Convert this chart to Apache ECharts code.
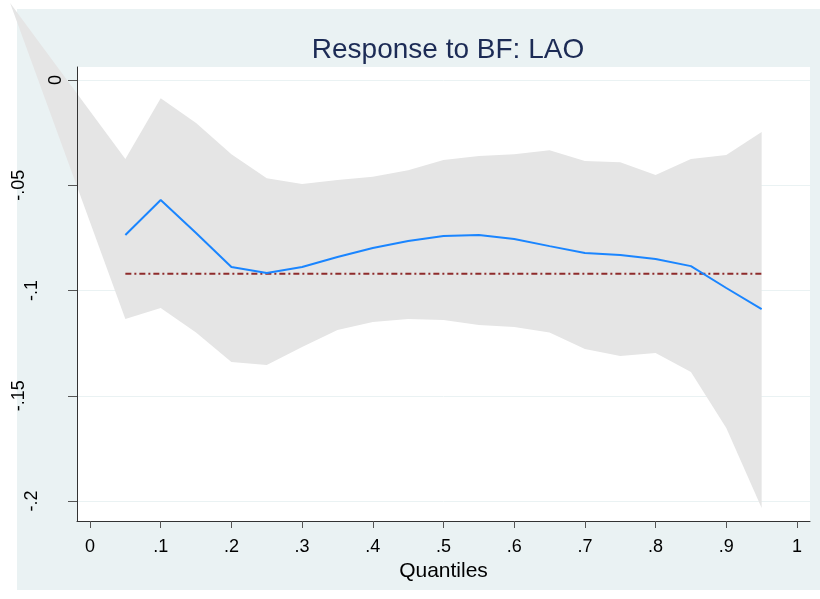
<!DOCTYPE html>
<html>
<head>
<meta charset="utf-8">
<script src="https://cdn.jsdelivr.net/npm/echarts@6/dist/echarts.min.js"></script>
<style>
  html, body { margin: 0; padding: 0; background: #fff; }
  #bg { position: absolute; left: 17px; top: 9px; width: 803px; height: 581px; background: #EAF2F3; }
  #chart { position: absolute; left: 0; top: 0; width: 820px; height: 599px; }
</style>
</head>
<body>
<div id="bg"></div>
<div id="chart"></div>
<script>
// quantiles and estimates
const quantiles = [0.05, 0.1, 0.15, 0.2, 0.25, 0.3, 0.35, 0.4, 0.45, 0.5,
                   0.55, 0.6, 0.65, 0.7, 0.75, 0.8, 0.85, 0.9, 0.95];
const response = [-0.0736, -0.0570, -0.0727, -0.0888, -0.0917, -0.0888, -0.0841, -0.0798, -0.0765, -0.0741,
                  -0.0736, -0.0755, -0.0789, -0.0822, -0.0831, -0.0850, -0.0884, -0.0988, -0.1088];
const upperCI = [-0.0375, -0.0086, -0.0204, -0.0352, -0.0466, -0.0494, -0.0475, -0.0460, -0.0428, -0.0380,
                 -0.0361, -0.0352, -0.0333, -0.0385, -0.0390, -0.0451, -0.0375, -0.0356, -0.0247];
const lowerCI = [-0.1135, -0.1083, -0.1200, -0.1340, -0.1354, -0.1268, -0.1188, -0.1150, -0.1135, -0.1140,
                 -0.1164, -0.1173, -0.1200, -0.1278, -0.1311, -0.1297, -0.1387, -0.1653, -0.2033];
// stray first vertex of the band (off the plot region)
const bandStart = [-0.113, 0.0366];
const olsLine = -0.092;

const xTicks = [0, 0.1, 0.2, 0.3, 0.4, 0.5, 0.6, 0.7, 0.8, 0.9, 1];
const yTicks = [0, -0.05, -0.1, -0.15, -0.2];

function stataLabel(v) {
    let s = String(+(+v).toFixed(2));
    return s.replace(/^(-?)0\./, '$1.');
}

const font = 'Liberation Sans, Arial, sans-serif';
const yMin = -0.2095, yMax = 0.0062;

let myChart = echarts.init(document.getElementById('chart'), null, { renderer: 'canvas' });
myChart.setOption({
    animation: false,
    backgroundColor: 'transparent',
    title: {
        text: 'Response to BF: LAO',
        left: 443,
        top: 31,
        textAlign: 'center',
        textStyle: { fontFamily: font, fontSize: 28, fontWeight: 'normal', color: '#1C2B55' }
    },
    grid: {
        left: 77, right: 10, top: 67, bottom: 78,
        show: true, backgroundColor: '#fff', borderWidth: 0
    },
    xAxis: {
        type: 'value',
        min: -0.0184,
        max: 1.0184,
        name: 'Quantiles',
        nameLocation: 'middle',
        nameGap: 28,
        nameTextStyle: { fontFamily: font, fontSize: 21, color: '#000' },
        splitLine: { show: false },
        axisLine: { onZero: false, lineStyle: { color: '#333', width: 1 } },
        axisTick: { length: 7, lineStyle: { color: '#555' }, customValues: xTicks },
        axisLabel: {
            customValues: xTicks,
            margin: 17,
            fontFamily: font, fontSize: 18, color: '#000',
            formatter: stataLabel
        }
    },
    yAxis: [
        {
            type: 'value', min: yMin, max: yMax, z: 0,
            axisLine: { show: false },
            axisTick: { show: false, customValues: yTicks },
            axisLabel: { show: false, customValues: yTicks },
            splitLine: { show: true, lineStyle: { color: '#EAF2F3', width: 1 } }
        },
        {
            type: 'value', min: yMin, max: yMax, z: 5,
            position: 'left',
            splitLine: { show: false },
            axisLine: { show: true, onZero: false, lineStyle: { color: '#333', width: 1 } },
            axisTick: { show: true, length: 9, lineStyle: { color: '#555' }, customValues: yTicks },
            axisLabel: {
                customValues: yTicks,
                rotate: 90,
                margin: 12,
                fontFamily: font, fontSize: 18, color: '#000',
                formatter: v => {
                    const s = stataLabel(v);
                    return '{w' + s.length + '|' + s + '}';
                },
                rich: {
                    w1: { fontFamily: font, fontSize: 18, padding: [0, 0, 0, 0] },
                    w2: { fontFamily: font, fontSize: 18, padding: [0, 0, 12, 0] },
                    w3: { fontFamily: font, fontSize: 18, padding: [0, 0, 24, 0] },
                    w4: { fontFamily: font, fontSize: 18, padding: [0, 0, 37, 0] }
                }
            }
        }
    ],
    series: [
        {
            type: 'custom',
            name: 'CI',
            z: 1,
            clip: false,
            yAxisIndex: 0,
            data: [0],
            renderItem(params, api) {
                const pts = [api.coord(bandStart)];
                quantiles.forEach((q, i) => pts.push(api.coord([q, upperCI[i]])));
                for (let i = quantiles.length - 1; i >= 0; i--) {
                    pts.push(api.coord([quantiles[i], lowerCI[i]]));
                }
                return {
                    type: 'polygon',
                    shape: { points: pts },
                    style: { fill: '#E5E5E5', stroke: null }
                };
            }
        },
        {
            type: 'line',
            name: 'OLS',
            z: 2,
            yAxisIndex: 0,
            showSymbol: false,
            data: [[quantiles[0], olsLine], [quantiles[quantiles.length - 1], olsLine]],
            lineStyle: { color: '#8E2B2B', width: 2, type: [6, 3, 2, 3] }
        },
        {
            type: 'line',
            name: 'Response',
            z: 3,
            yAxisIndex: 0,
            showSymbol: false,
            data: quantiles.map((q, i) => [q, response[i]]),
            lineStyle: { color: '#1A85FF', width: 2 }
        }
    ]
});
</script>
</body>
</html>
